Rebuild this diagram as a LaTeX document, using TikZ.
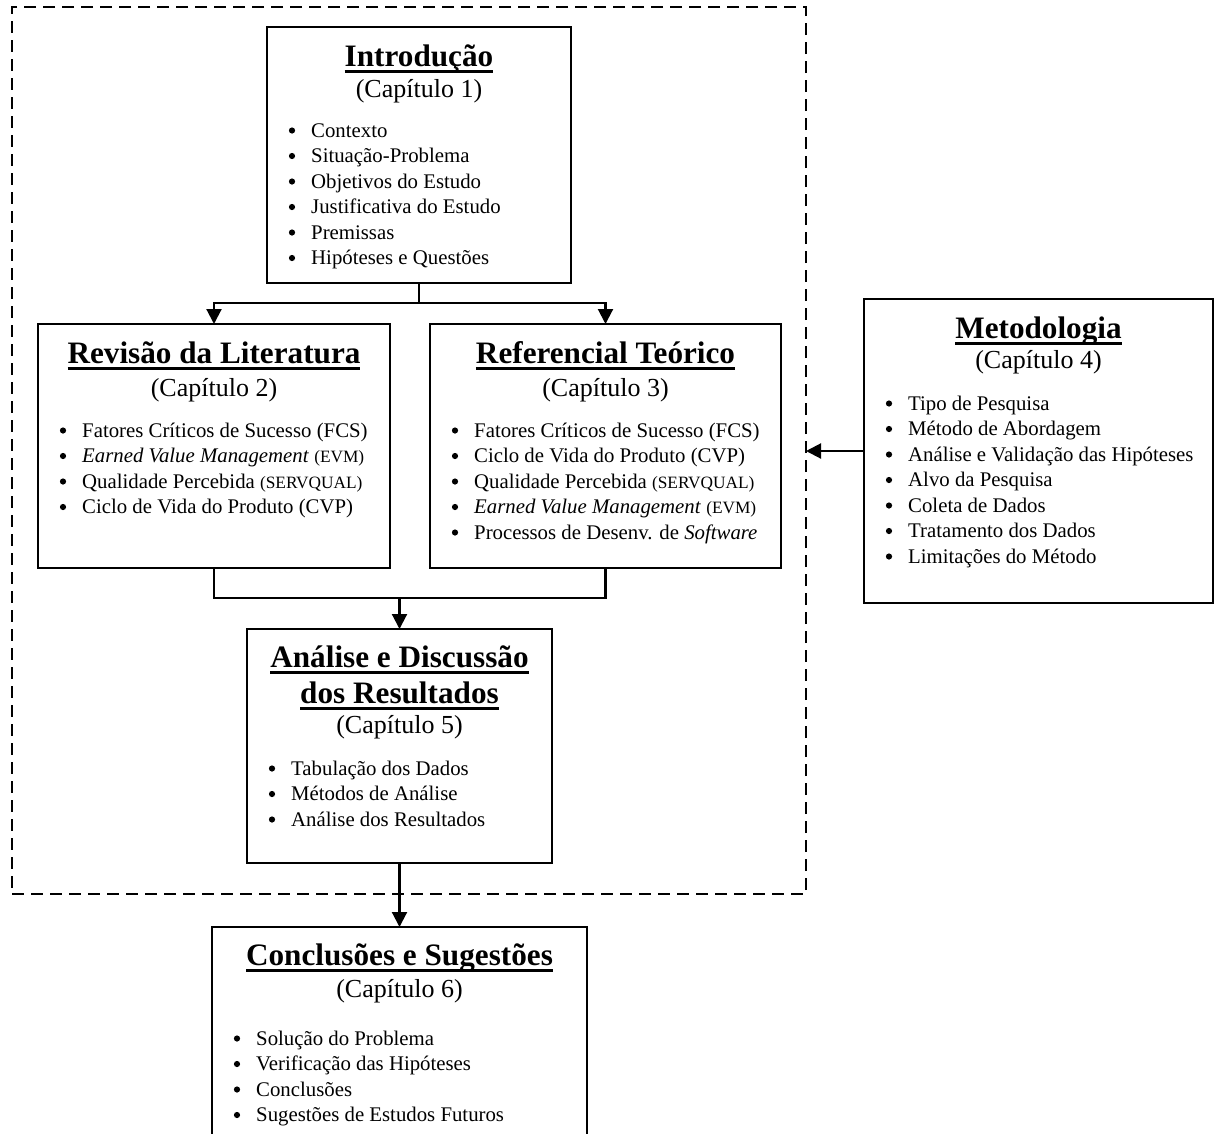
\documentclass[tikz,border=0pt]{standalone}
\usepackage{fontspec}
\setmainfont{Liberation Serif}
\usetikzlibrary{arrows.meta}

% title underline drawn at a fixed depth below the baseline
\newcommand\ulin[1]{\setbox0=\hbox{#1}\rlap{\rule[-6.8pt]{\wd0}{2.4pt}}\box0}
% smaller type for acronyms
\newcommand\sm[1]{{\fontsize{17.3}{20}\selectfont #1}}
% bullet list inside a box: #1 box name, #2 first baseline below the box top, #3 items
\newcommand\bulletlist[3]{%
  \foreach \txt [count=\i] in {#3} {
    \pgfmathsetmacro\yy{-#2-25.5*(\i-1)}
    \node[item] (#1-\i) at ([xshift=44pt, yshift=\yy pt]#1.north west) {\txt};
    \fill ([xshift=-19pt, yshift=6.5pt]#1-\i.base west) circle (3.1pt);
  }}

\begin{document}
\begin{tikzpicture}[x=1pt,y=-1pt,
  box/.style={draw, line width=2.1pt, anchor=north west, inner sep=0, outer sep=0},
  frame/.style={draw, dash pattern=on 12pt off 7pt, line width=2pt, anchor=north west, inner sep=0, outer sep=0},
  title/.style={font=\fontsize{31.2}{36}\selectfont\bfseries, inner sep=0, anchor=base},
  chap/.style={font=\fontsize{26}{30}\selectfont, inner sep=0, anchor=base},
  item/.style={font=\fontsize{20.8}{25.5}\selectfont, inner sep=0, anchor=base west},
  link/.style={line width=2.1pt},
  arr/.style={line width=2.1pt, -{Triangle[length=15pt,width=15pt]}}]
\clip (0,0) rectangle (1215,1133);

% dashed frame around chapters 1, 2, 3 and 5
\node[frame, minimum width=794pt, minimum height=887pt] (frame) at (12,7) {};

% chapter boxes
\node[box, minimum width=304pt, minimum height=256pt] (intro) at (267,27) {};
\node[box, minimum width=352pt, minimum height=244pt] (revisao) at (38,324) {};
\node[box, minimum width=351pt, minimum height=244pt] (referencial) at (430,324) {};
\node[box, minimum width=349pt, minimum height=304pt] (metodologia) at (864,299) {};
\node[box, minimum width=305pt, minimum height=234pt] (analise) at (247,629) {};
\node[box, minimum width=375pt, minimum height=240pt] (conclusoes) at (212,927) {};

% Chapter 1
\node[title] (intro-t) at ([yshift=-39pt]intro.north) {\ulin{Introdução}};
\node[chap] (intro-c) at ([yshift=-70pt]intro.north) {(Capítulo 1)};
\bulletlist{intro}{110}{Contexto, Situação-Problema, Objetivos do Estudo,
  Justificativa do Estudo, Premissas, Hipóteses e Questões}

% Chapter 2
\node[title] (revisao-t) at ([yshift=-39pt]revisao.north) {\ulin{Revisão da Literatura}};
\node[chap] (revisao-c) at ([yshift=-72pt]revisao.north) {(Capítulo 2)};
\bulletlist{revisao}{113}{Fatores Críticos de Sucesso (FCS),
  {\emph{Earned Value Management} \sm{(EVM)}},
  {Qualidade Percebida \sm{(SERVQUAL)}},
  Ciclo de Vida do Produto (CVP)}

% Chapter 3
\node[title] (referencial-t) at ([yshift=-39pt]referencial.north) {\ulin{Referencial Teórico}};
\node[chap] (referencial-c) at ([yshift=-72pt]referencial.north) {(Capítulo 3)};
\bulletlist{referencial}{113}{Fatores Críticos de Sucesso (FCS),
  Ciclo de Vida do Produto (CVP),
  {Qualidade Percebida \sm{(SERVQUAL)}},
  {\emph{Earned Value Management} \sm{(EVM)}},
  {Processos de Desenv. de \emph{Software}}}

% Chapter 4
\node[title] (metodologia-t) at ([yshift=-39pt]metodologia.north) {\ulin{Metodologia}};
\node[chap] (metodologia-c) at ([yshift=-69pt]metodologia.north) {(Capítulo 4)};
\bulletlist{metodologia}{111}{Tipo de Pesquisa, Método de Abordagem,
  Análise e Validação das Hipóteses, Alvo da Pesquisa, Coleta de Dados,
  Tratamento dos Dados, Limitações do Método}

% Chapter 5
\node[title] (analise-t1) at ([yshift=-38pt]analise.north) {\ulin{Análise e Discussão}};
\node[title] (analise-t2) at ([yshift=-74pt]analise.north) {\ulin{dos Resultados}};
\node[chap] (analise-c) at ([yshift=-104pt]analise.north) {(Capítulo 5)};
\bulletlist{analise}{146}{Tabulação dos Dados, Métodos de Análise,
  Análise dos Resultados}

% Chapter 6
\node[title] (conclusoes-t) at ([yshift=-38pt]conclusoes.north) {\ulin{Conclusões e Sugestões}};
\node[chap] (conclusoes-c) at ([yshift=-70pt]conclusoes.north) {(Capítulo 6)};
\bulletlist{conclusoes}{118}{Solução do Problema, Verificação das Hipóteses,
  Conclusões, Sugestões de Estudos Futuros}

% connectors
\coordinate (j1) at (419,303);
\draw[link] (intro.south) -- (j1);
\draw[arr] (j1) -| (revisao.north);
\draw[arr] (j1) -| (referencial.north);

\coordinate (j2) at (399.5,598);
\draw[link] (revisao.south) |- (j2) -| (referencial.south);
\draw[arr] (j2) -- (analise.north);

\draw[arr] (analise.south) -- (conclusoes.north);
\draw[arr] (metodologia.west) -- (metodologia.west -| frame.east);
\end{tikzpicture}
\end{document}
